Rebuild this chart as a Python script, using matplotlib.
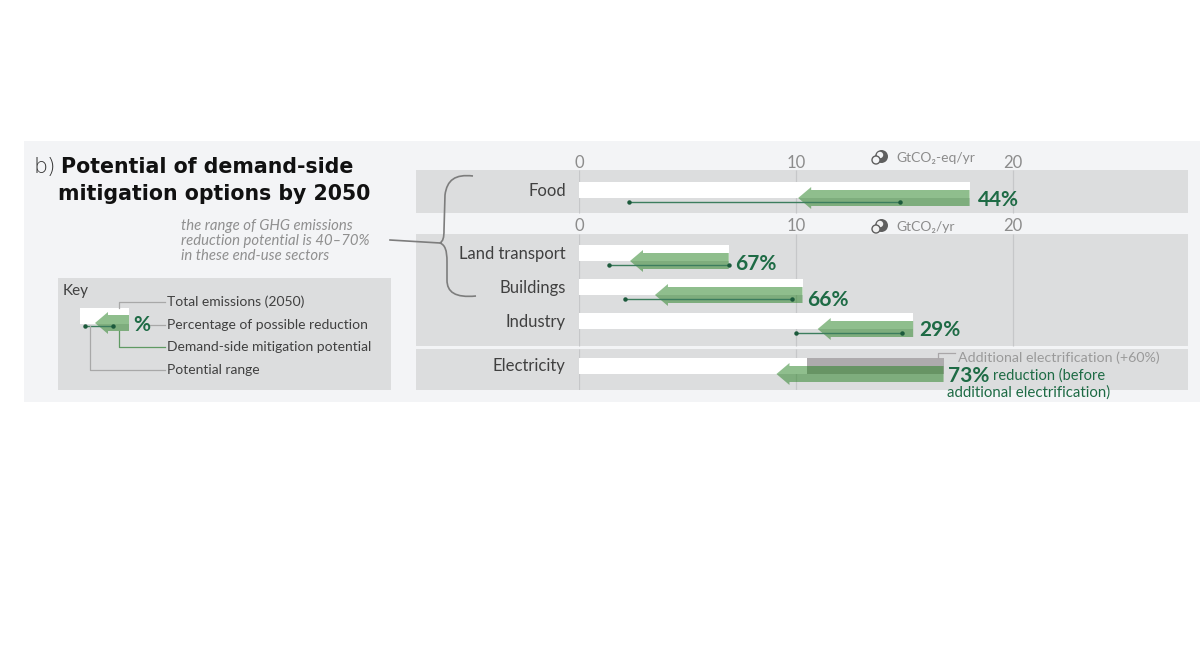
import matplotlib
matplotlib.use("Agg")
import matplotlib.pyplot as plt
from matplotlib.patches import Rectangle, Polygon, Circle, PathPatch
from matplotlib.path import Path

# data (GtCO2-eq/yr)
sectors = ["Food", "Land transport", "Buildings", "Industry", "Electricity"]
total_emissions = [18.0, 6.9, 10.3, 15.4, 10.5]
mitigated_to = [10.1, 2.35, 3.5, 11.0, 9.1]
arrow_base = [18.0, 6.9, 10.3, 15.4, 16.8]
range_low = [2.3, 1.4, 2.1, 10.0, None]
range_high = [14.8, 6.9, 9.8, 14.9, None]
reduction_labels = ["44%", "67%", "66%", "29%", "73%"]
electrification_end = 16.8
axis_ticks = [0, 10, 20]

# layout, in pixels of the 1200x666 image
W, H = 1200, 666
row_y = [194, 257, 291, 325, 370]
tick_y = [189, 253, 287, 321, 365]
label_dx = [8, 6, 5, 6, 4]
label_dy = [5.5, 6.5, 8.5, 5.5, 5.5]
FONT = ["Lato", "DejaVu Sans"]
GREEN = "#217f1d"
DARK = "#1e6b45"
GREY_TXT = "#8c8c8c"
PANEL = "#dcddde"
BG = "#f3f4f6"
GRID = "#c6c7c9"
PX = 21.7  # pixels per unit on the x axis

plt.rcParams["font.family"] = FONT
fig = plt.figure(figsize=(W / 100, H / 100), dpi=100, facecolor="white")


def pixel_axes(z):
    a = fig.add_axes([0, 0, 1, 1], zorder=z)
    a.set_xlim(0, W)
    a.set_ylim(H, 0)
    a.axis("off")
    return a


back = pixel_axes(0)
back.add_patch(Rectangle((24, 141), W - 24, 261, fc=BG, ec="none"))
for top, bottom in [(170, 213), (234, 346), (349, 390)]:
    back.add_patch(Rectangle((416, top), 772, bottom - top, fc=PANEL, ec="none"))
back.add_patch(Rectangle((58, 278), 333, 112, fc=PANEL, ec="none"))

# data axes: x runs in emission units, y stays in pixel rows
ax = fig.add_axes([579 / W, 1 - 390 / H, 609 / W, 220 / H], zorder=1)
ax.patch.set_visible(False)
ax.set_xlim(0, 609 / PX)
ax.set_ylim(390, 170)
for s in ax.spines.values():
    s.set_visible(False)

ax.xaxis.tick_top()
ax.set_xticks(axis_ticks)
ax.tick_params(axis="x", length=0, pad=-1, labelsize=12, labelcolor=GREY_TXT)
ax.set_yticks(tick_y, sectors)
ax.tick_params(axis="y", length=0, pad=9.5, labelsize=12, labelcolor="#404040")

for v in axis_ticks:
    ax.text(v, 226, str(v), ha="center", va="center", fontsize=12, color=GREY_TXT)
    ax.vlines(v, 170, 213, color=GRID, lw=0.9, zorder=1)
    ax.vlines(v, 234, 346, color=GRID, lw=0.9, zorder=1)
    if v < 20:
        ax.vlines(v, 349, 390, color=GRID, lw=0.9, zorder=1)

# white totals
ax.barh([y - 4 for y in row_y], total_emissions, height=16, color="white", zorder=2)
# additional electrification block
ax.barh(row_y[4] - 4, electrification_end - total_emissions[4], left=total_emissions[4],
        height=16, color="#aeabad", zorder=2)

for i, y in enumerate(row_y):
    base, tip = arrow_base[i], mitigated_to[i]
    head = tip + 13 / PX
    pts = [(base, y - 4), (head, y - 4), (head, y - 7), (tip, y + 4),
           (head, y + 15), (head, y + 12), (base, y + 12)]
    ax.add_patch(Polygon(pts, closed=True, fc=GREEN, ec="none", alpha=0.5, zorder=3))
    if range_low[i] is not None:
        ax.plot([range_low[i], range_high[i]], [y + 8, y + 8], color="#3c7d5e", lw=1.0, zorder=4)
        ax.plot([range_low[i], range_high[i]], [y + 8, y + 8], ls="none", marker="o", ms=2.2,
                color="#1c5a3c", zorder=5)
    ax.annotate(reduction_labels[i], (base, y + label_dy[i]), xytext=(label_dx[i] * 0.72, 0),
                textcoords="offset points", ha="left", va="center", fontsize=15, fontweight="bold",
                color=DARK, zorder=6)

top = pixel_axes(2)

# title
top.text(33, 167, "b)", fontsize=16, color="#333333", va="center", family="DejaVu Sans",
         fontweight="light")
top.text(61, 167, "Potential of demand-side", fontsize=14.8, fontweight="bold", color="#111111",
         va="center", family="DejaVu Sans")
top.text(58, 194, "mitigation options by 2050", fontsize=14.8, fontweight="bold", color="#111111",
         va="center", family="DejaVu Sans")

# hand note and brace
for yy, line in zip([226, 241, 256], ["the range of GHG emissions",
                                      "reduction potential is 40\u201370%",
                                      "in these end-use sectors"]):
    top.text(181, yy, line, fontsize=10.7, style="italic", color="#8f8f8f", va="center")
verts = [(473, 176), (455, 174), (447, 180), (445, 195), (444, 230), (444, 238), (443, 241), (440, 243),
         (445, 245), (447, 250), (447, 262), (447, 280), (447, 292), (455, 298), (476, 296)]
codes = [Path.MOVETO, Path.CURVE4, Path.CURVE4, Path.CURVE4, Path.LINETO,
         Path.CURVE4, Path.CURVE4, Path.CURVE4, Path.CURVE4, Path.CURVE4, Path.CURVE4,
         Path.LINETO, Path.CURVE4, Path.CURVE4, Path.CURVE4]
top.add_patch(PathPatch(Path(verts, codes), fc="none", ec="#7d7d7d", lw=1.2))
top.plot([390, 440], [240, 243], color="#7d7d7d", lw=1.2)

# unit labels with the small cloud icon
for yy, unit in [(158, "GtCO\u2082-eq/yr"), (227, "GtCO\u2082/yr")]:
    fill = BG if yy < 170 else "#f0f0f0"
    top.add_patch(Circle((881.5, yy - 1.5), 6.5, fc="#5f5f5f", ec="none"))
    top.add_patch(Circle((880, yy - 3), 3.2, fc=fill, ec="none"))
    top.add_patch(Circle((876, yy + 2), 4, fc=fill, ec="#5f5f5f", lw=1.0))
    top.text(896, yy, unit, fontsize=10, color=GREY_TXT, va="center")

# electricity notes
top.plot([938, 938, 955], [358, 353, 353], color="#a9a6a8", lw=0.9)
top.text(958, 358, "Additional electrification (+60%)", fontsize=10.3, color="#9a9a9a", va="center")
top.text(993, 376, "reduction (before", fontsize=10.5, color=DARK, va="center")
top.text(947, 393, "additional electrification)", fontsize=10.8, color=DARK, va="center")

# key
top.text(63, 291, "Key", fontsize=11, color="#404040", va="center")
top.add_patch(Rectangle((80, 308), 49, 16, fc="white", ec="none"))
top.add_patch(Polygon([(129, 315), (108, 315), (108, 312), (95, 323), (108, 334), (108, 331), (129, 331)],
                      closed=True, fc=GREEN, ec="none", alpha=0.5))
top.plot([85, 113], [326, 326], color="#3c7d5e", lw=1.0)
top.plot([85, 113], [326, 326], ls="none", marker="o", ms=2.2, color="#1c5a3c")
top.text(133, 325, "%", fontsize=15, fontweight="bold", color=DARK, va="center")
top.plot([119, 119, 165], [308, 302, 302], color="#a8a8a8", lw=0.9)
top.plot([150, 165], [325, 325], color="#a8a8a8", lw=0.9)
top.plot([119, 119, 165], [331, 347, 347], color="#5f9a63", lw=0.9)
top.plot([90, 90, 165], [326, 370, 370], color="#a8a8a8", lw=0.9)
for yy, line in zip([302, 325, 347, 370], ["Total emissions (2050)", "Percentage of possible reduction",
                                           "Demand-side mitigation potential", "Potential range"]):
    top.text(167, yy, line, fontsize=10, color="#404040", va="center")

fig.savefig("out.png", dpi=100, facecolor="white")
